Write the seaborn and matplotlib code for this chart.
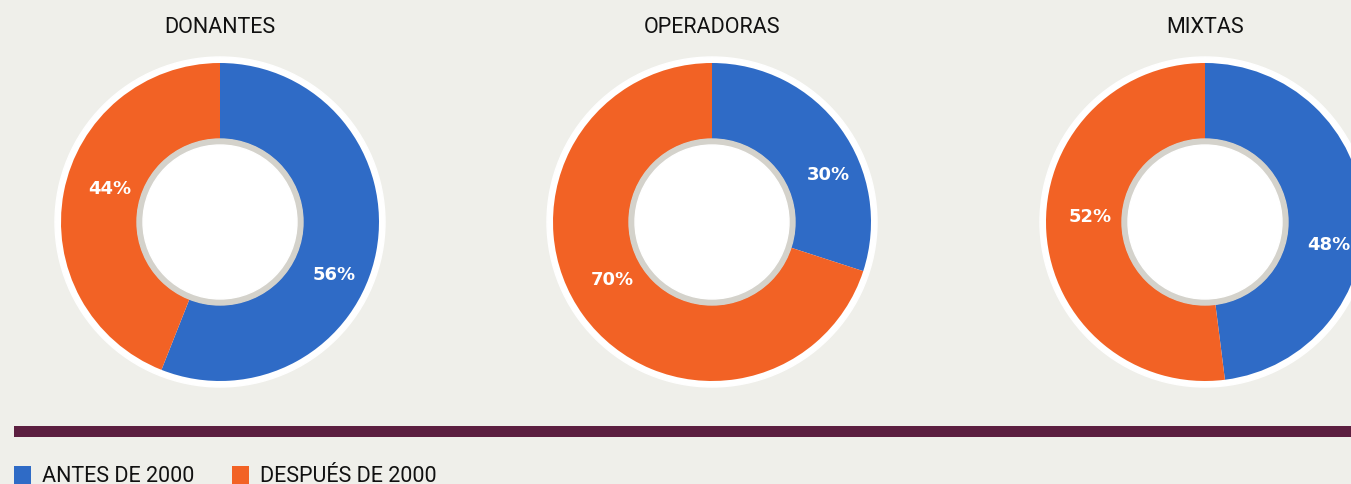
import matplotlib
matplotlib.use("Agg")
import numpy as np
import matplotlib.pyplot as plt
import seaborn as sns
from matplotlib.patches import Circle, Rectangle

# Share of organisations founded before / after 2000, by type
groups = ["DONANTES", "OPERADORAS", "MIXTAS"]
antes_2000 = [56, 30, 48]
despues_2000 = [44, 70, 52]
series_labels = ["ANTES DE 2000", "DESPUÉS DE 2000"]
series_colors = ["#2f6bc6", "#f26225"]

BG = "#efefea"
RING_GRAY = "#d4d2cb"
BAR_COLOR = "#5c1f40"

sns.set_theme(style="white", rc={"figure.facecolor": BG, "axes.facecolor": "none"})
plt.rcParams["font.family"] = ["Roboto", "DejaVu Sans"]

W, H = 1351, 484
fig = plt.figure(figsize=(W / 100, H / 100), dpi=100)

# Full-figure overlay in pixel units for titles, divider and legend
base = fig.add_axes([0, 0, 1, 1])
base.set_xlim(0, W)
base.set_ylim(H, 0)
base.axis("off")

centers_x = [220, 712, 1205]
cy = 222
r_white, r_pie, r_inner, r_hole = 165, 159, 83, 77
half = 170
label_style = {
    0: dict(radius=126, shift=-14),  # ANTES DE 2000
    1: dict(radius=115, shift=-6),   # DESPUÉS DE 2000
}

for cx, name, a, d in zip(centers_x, groups, antes_2000, despues_2000):
    ax = fig.add_axes([(cx - half) / W, 1 - (cy + half) / H, 2 * half / W, 2 * half / H])
    ax.add_patch(Circle((0, 0), r_white, color="white", zorder=0))
    values = [a, d]
    wedges, _ = ax.pie(values, colors=series_colors, startangle=90, counterclock=False,
                       radius=r_pie, wedgeprops=dict(width=r_pie - r_inner, linewidth=0))
    ax.add_patch(Circle((0, 0), r_inner, color=RING_GRAY, zorder=3))
    ax.add_patch(Circle((0, 0), r_hole, color="white", zorder=4))
    for k, (w, v) in enumerate(zip(wedges, values)):
        mid = np.deg2rad((w.theta1 + w.theta2) / 2 + label_style[k]["shift"])
        rr = label_style[k]["radius"]
        ax.text(rr * np.cos(mid), rr * np.sin(mid), f"{v}%", ha="center", va="center",
                color="white", fontsize=13, fontweight="bold", family="DejaVu Sans", zorder=5)
    ax.set_xlim(-half, half)
    ax.set_ylim(-half, half)
    ax.set_aspect("equal")
    ax.axis("off")
    base.text(cx, 33, name, ha="center", va="baseline", fontsize=15.5, color="#111111")

# Divider bar
base.add_patch(Rectangle((14, 426), W - 14, 11, color=BAR_COLOR, linewidth=0))

# Legend
legend_x = [14, 232]
for lx, lab, col in zip(legend_x, series_labels, series_colors):
    base.add_patch(Rectangle((lx, 466), 17, 18, color=col, linewidth=0))
    base.text(lx + 28, 482, lab, ha="left", va="baseline", fontsize=15.5, color="#111111")

fig.savefig("out.png", dpi=100, facecolor=BG)
